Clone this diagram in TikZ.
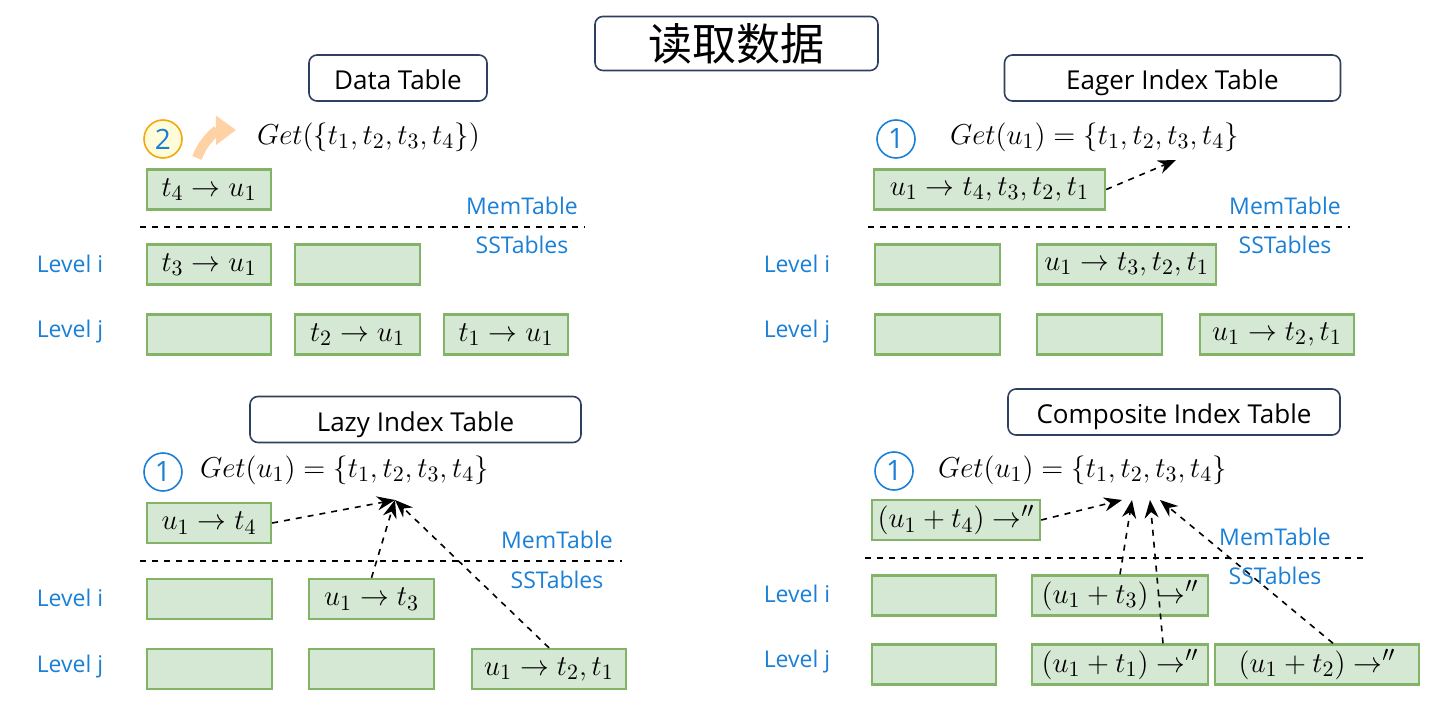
\documentclass[tikz,border=0pt]{standalone}
\usepackage{fontspec}
\usepackage{amsmath}
\setsansfont{Open Sans}
\newfontfamily\cjk{Noto Sans CJK SC}
\usetikzlibrary{arrows.meta, positioning}
\definecolor{kvfill}{HTML}{D5E8D4}
\definecolor{kvdraw}{HTML}{82B366}
\definecolor{lvblue}{HTML}{1A7FD6}
\definecolor{navy}{HTML}{2F3F5F}
\tikzset{
  kv/.style={draw=kvdraw, fill=kvfill, line width=1.2pt, minimum height=20pt, inner sep=0pt, font=\fontsize{15}{15}\selectfont},
  title/.style={draw=navy, rounded corners=4pt, line width=0.8pt, minimum height=23pt, text height=11.8pt, text depth=0pt, font=\sffamily\fontsize{13}{13}\selectfont},
  lbl/.style={text=lvblue, font=\sffamily\fontsize{11.5}{11.5}\selectfont},
  stepnum/.style={circle, draw=lvblue, line width=0.8pt, minimum size=19pt, inner sep=0pt, text=lvblue, font=\sffamily\fontsize{14}{14}\selectfont},
  getq/.style={font=\fontsize{15}{15}\selectfont},
  sep/.style={dashed, line width=0.8pt},
  ptr/.style={dashed, line width=0.8pt, -{Stealth[length=9pt,width=7pt]}},
}
\begin{document}
\begin{tikzpicture}[x=0.5pt, y=-0.5pt]
  \useasboundingbox (0,0) rectangle (1440,727);
  \node[title, minimum width=141.5pt, minimum height=23.5pt, text height=, text depth=, font=\cjk\fontsize{22}{22}\selectfont] (main) at (736.5,43.5) {读取数据};

  % Data Table
  \node[title, minimum width=89pt] (dt) at (398,78) {Data Table};
  \node[stepnum, draw=orange!60!yellow!80!brown, fill=yellow!15] (s2) at (163,139) {2};
  \draw[line width=5pt, orange!35, -{Triangle[length=10pt,width=14pt]}] (197,158) to[bend left=35] (236,130);
  \node[getq, anchor=west] (g2) at (250,137) {$Get(\{t_1,t_2,t_3,t_4\})$};
  \node[kv, minimum width=62pt] (d0) at (209,189.5) {$t_4\rightarrow u_1$};
  \node[lbl] (dmem) at (522,206) {MemTable};
  \draw[sep] (140,227) -- (585,227);
  \node[lbl] (dss) at (522,245) {SSTables};
  \node[lbl] (dli) at (70,264) {Level i};
  \node[lbl] (dlj) at (70,332) {Level j};
  \node[kv, minimum width=62pt] (di1) at (209,264.5) {$t_3\rightarrow u_1$};
  \node[kv, minimum width=62.5pt] (di2) at (357.5,264.5) {};
  \node[kv, minimum width=62pt] (dj1) at (209,334.5) {};
  \node[kv, minimum width=62.5pt] (dj2) at (357.5,334.5) {$t_2\rightarrow u_1$};
  \node[kv, minimum width=62pt] (dj3) at (506,334.5) {$t_1\rightarrow u_1$};

  % Eager Index Table
  \node[title, minimum width=168pt] (et) at (1172.5,78) {Eager Index Table};
  \node[stepnum] (e1) at (896,139) {1};
  \node[getq, anchor=west] (ge) at (943,137) {$Get(u_1)=\{t_1,t_2,t_3,t_4\}$};
  \node[kv, minimum width=115.5pt] (e0) at (989.5,189.5) {$u_1\rightarrow t_4,t_3,t_2,t_1$};
  \coordinate (ea) at (1176,160);
  \draw[ptr] (e0.east) -- (ea);
  \node[lbl] (emem) at (1285,206) {MemTable};
  \draw[sep] (868,227) -- (1350,227);
  \node[lbl] (ess) at (1285,245) {SSTables};
  \node[lbl] (eli) at (797,264) {Level i};
  \node[lbl] (elj) at (797,332) {Level j};
  \node[kv, minimum width=62.5pt] (ei1) at (937.5,264.5) {};
  \node[kv, minimum width=89.5pt] (ei2) at (1126.5,264.5) {$u_1\rightarrow t_3,t_2,t_1$};
  \node[kv, minimum width=62.5pt] (ej1) at (937.5,334.5) {};
  \node[kv, minimum width=62.5pt] (ej2) at (1099.5,334.5) {};
  \node[kv, minimum width=77pt] (ej3) at (1277,334.5) {$u_1\rightarrow t_2,t_1$};

  % Lazy Index Table
  \node[title, minimum width=165.5pt] (lt) at (415.5,419.5) {Lazy Index Table};
  \node[stepnum] (l1) at (163,472) {1};
  \node[getq, anchor=west] (gl) at (193,470) {$Get(u_1)=\{t_1,t_2,t_3,t_4\}$};
  \coordinate (la) at (395,500);
  \node[kv, minimum width=62pt] (l0) at (209,523) {$u_1\rightarrow t_4$};
  \node[lbl] (lmem) at (557,540) {MemTable};
  \draw[sep] (140,561) -- (622,561);
  \node[lbl] (lss) at (557,580) {SSTables};
  \node[lbl] (lli) at (70,598) {Level i};
  \node[lbl] (llj) at (70,667) {Level j};
  \node[kv, minimum width=62.5pt] (li1) at (209.5,599) {};
  \node[kv, minimum width=62.5pt] (li2) at (371.5,599) {$u_1\rightarrow t_3$};
  \node[kv, minimum width=62.5pt] (lj1) at (209.5,669) {};
  \node[kv, minimum width=62.5pt] (lj2) at (371.5,669) {};
  \node[kv, minimum width=77pt] (lj3) at (549,669) {$u_1\rightarrow t_2,t_1$};
  \draw[ptr] (l0.east) -- (la);
  \draw[ptr] (li2.north) -- (la);
  \draw[ptr] (lj3.north) -- (la);

  % Composite Index Table
  \node[title, minimum width=166pt] (ct) at (1174,412) {Composite Index Table};
  \node[stepnum] (c1) at (894,471) {1};
  \node[getq, anchor=west] (gc) at (931,470) {$Get(u_1)=\{t_1,t_2,t_3,t_4\}$};
  \node[kv, minimum width=84pt] (c0) at (956,520) {$(u_1+t_4)\rightarrow''$};
  \node[lbl] (cmem) at (1275,537) {MemTable};
  \draw[sep] (865,558) -- (1368,558);
  \node[lbl] (css) at (1275,576) {SSTables};
  \node[lbl] (cli) at (797,594) {Level i};
  \node[lbl] (clj) at (797,662) {Level j};
  \node[kv, minimum width=62pt] (ci1) at (934,595.5) {};
  \node[kv, minimum width=88pt] (ci2) at (1120,595.5) {$(u_1+t_3)\rightarrow''$};
  \node[kv, minimum width=62pt] (cj1) at (934,664.5) {};
  \node[kv, minimum width=88pt] (cj2) at (1120,664.5) {$(u_1+t_1)\rightarrow''$};
  \node[kv, minimum width=102pt] (cj3) at (1317,664.5) {$(u_1+t_2)\rightarrow''$};
  \coordinate (ca1) at (1122,500);
  \coordinate (ca2) at (1132,500);
  \coordinate (ca3) at (1150,500);
  \coordinate (ca4) at (1160,500);
  \draw[ptr] (c0.east) -- (ca1);
  \draw[ptr] (ci2.north) -- (ca2);
  \draw[ptr] ([xshift=21.5pt]cj2.north) -- (ca3);
  \draw[ptr] ([xshift=8pt]cj3.north) -- (ca4);
\end{tikzpicture}
\end{document}
